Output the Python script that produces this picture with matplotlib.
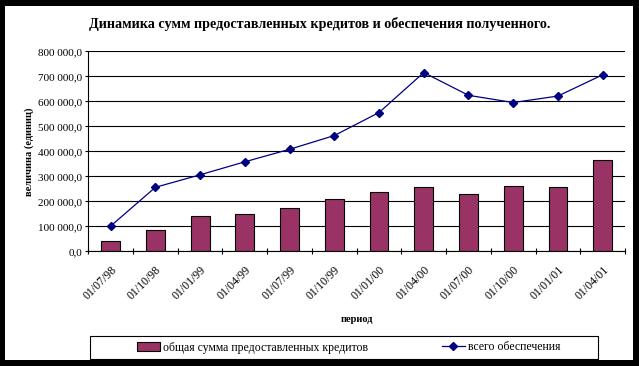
import matplotlib
matplotlib.use("Agg")
import matplotlib.pyplot as plt
from matplotlib.patches import Rectangle
from matplotlib.ticker import FuncFormatter, MultipleLocator
from matplotlib.transforms import ScaledTranslation
import numpy as np

# данные
periods = ['01/07/98', '01/10/98', '01/01/99', '01/04/99', '01/07/99', '01/10/99',
           '01/01/00', '01/04/00', '01/07/00', '01/10/00', '01/01/01', '01/04/01']
credits = [40000, 84000, 140000, 148000, 172000, 208000,
           236000, 257000, 228000, 260000, 259000, 365000]
collateral = [101000, 256000, 306000, 358000, 408000, 463000,
              555000, 715000, 624000, 595000, 621000, 706000]

plt.rcParams['font.family'] = ['Liberation Serif', 'DejaVu Serif']

W, H = 639, 366
fig = plt.figure(figsize=(W / 100, H / 100), dpi=100, facecolor='black')

# белая область диаграммы на черном фоне
fig.patches.append(Rectangle((5 / W, 1 - 360 / H), 628 / W, 354 / H,
                             transform=fig.transFigure, facecolor='white',
                             edgecolor='none', zorder=-10))

ax = fig.add_axes([88.3 / W, 1 - 251.3 / H, (625 - 88.3) / W, (251.3 - 51.3) / H])
ax.set_facecolor('none')

x = np.arange(len(periods))
bars = ax.bar(x, credits, width=0.42, color='#993366', edgecolor='black',
              linewidth=0.8, zorder=3, label='общая сумма предоставленных кредитов')
line, = ax.plot(x, collateral, color='#000080', linewidth=0.9, marker='D',
                markersize=4, zorder=4, label='всего обеспечения')

ax.set_xlim(-0.5, len(periods) - 0.5)
ax.set_ylim(0, 800000)
ax.yaxis.set_major_locator(MultipleLocator(100000))
ax.yaxis.set_major_formatter(FuncFormatter(
    lambda v, p: f"{v:,.1f}".replace(',', ' ').replace('.', ',')))

ax.grid(axis='y', color='black', linewidth=0.8, zorder=1)
ax.yaxis.get_gridlines()[-1].set_visible(False)

for s in ['top', 'right']:
    ax.spines[s].set_visible(False)
for s in ['left', 'bottom']:
    ax.spines[s].set_linewidth(0.8)
    ax.spines[s].set_zorder(5)

ax.set_xticks(np.arange(len(periods) + 1) - 0.5)
ax.set_xticklabels([])
ax.set_xticks(x, minor=True)
ax.set_xticklabels(periods, minor=True, rotation=45, ha='right', va='top',
                   rotation_mode='anchor', fontsize=8.5)
shift = ScaledTranslation(-7 / 100, 0, fig.dpi_scale_trans)
for lbl in ax.get_xticklabels(minor=True):
    lbl.set_transform(lbl.get_transform() + shift)
ax.tick_params(axis='x', which='major', direction='inout', length=5, width=0.8)
ax.tick_params(axis='x', which='minor', length=0, pad=9)
ax.tick_params(axis='y', direction='out', length=2.5, width=0.8, labelsize=8, pad=2)

ax.set_ylabel('величина (единиц)', fontsize=7.5, fontweight='bold', labelpad=2.5)
ax.set_xlabel('период', fontsize=7.5, fontweight='bold', labelpad=9)

fig.text(0.5, 1 - 28 / H, 'Динамика сумм предоставленных кредитов и обеспечения полученного.',
         ha='center', va='baseline', fontsize=10.2, fontweight='bold')

# легенда
fig.patches.append(Rectangle((90 / W, 1 - 359 / H), 508 / W, 23 / H,
                             transform=fig.transFigure, facecolor='white',
                             edgecolor='black', linewidth=0.8, zorder=1))
leg = fig.legend(handles=[bars, line], loc='center left',
                 bbox_to_anchor=(131 / W, 1 - 347.5 / H), ncol=2, frameon=False,
                 fontsize=8.5, borderpad=0, handlelength=1.95, handletextpad=0.3,
                 columnspacing=6.2)
leg.set_zorder(2)

fig.savefig('out.png', dpi=100, facecolor='black')
